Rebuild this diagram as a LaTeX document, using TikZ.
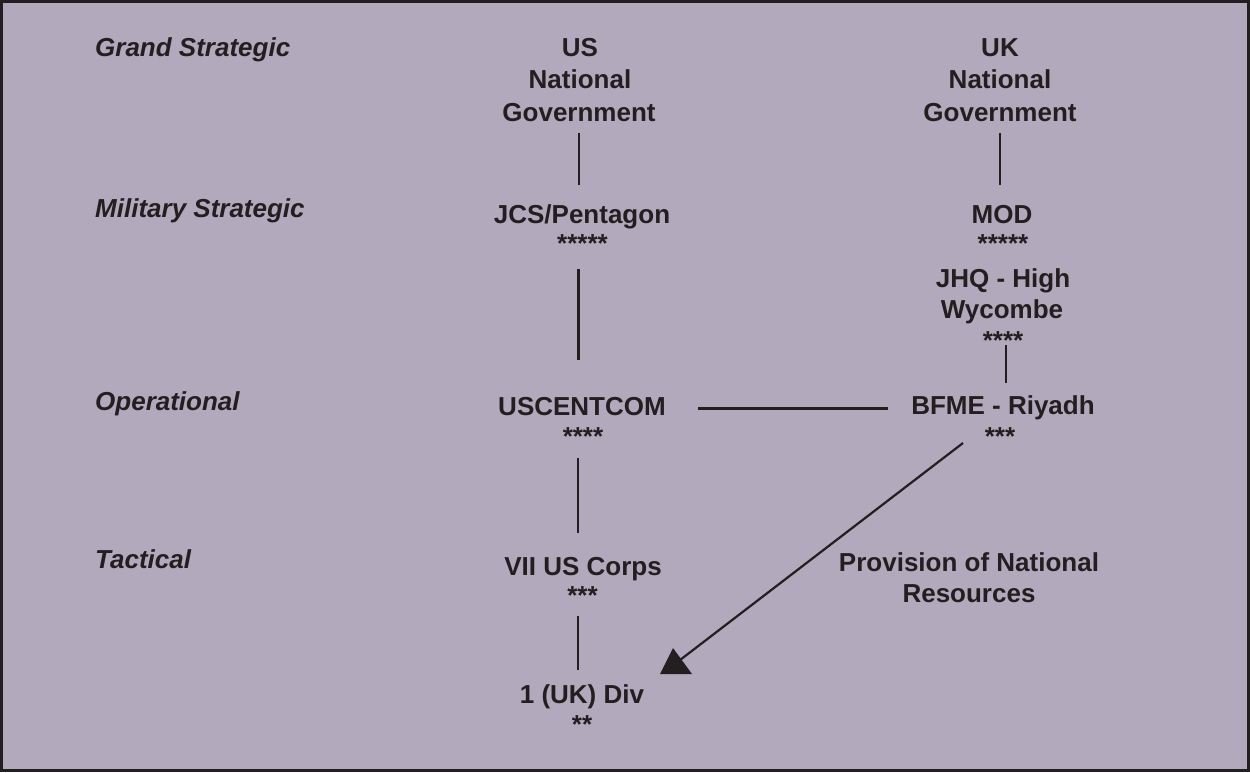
\documentclass[tikz,border=0pt]{standalone}
\usepackage{fontspec}
\setmainfont{Liberation Sans}
\definecolor{ink}{HTML}{231F20}
\definecolor{bg}{HTML}{B2A9BD}
\begin{document}
\begin{tikzpicture}[x=1pt,y=-1pt,
  lvl/.style={font=\fontsize{26}{31}\selectfont\bfseries\itshape, text=ink, anchor=base west, inner sep=0pt},
  txt/.style={font=\fontsize{26}{31}\selectfont\bfseries, text=ink, anchor=base, inner sep=0pt, text height=19pt, text depth=5.5pt},
  conn/.style={draw=ink, line width=2.5pt},
  diag/.style={draw=ink, line width=2.2pt}
]
\useasboundingbox (0,0) rectangle (1250,772);
\draw[line width=3pt, draw=ink, fill=bg] (1.5,1.5) rectangle (1248.5,770.5);

% level labels
\node[lvl] (lGrand) at (95,56) {Grand Strategic};
\node[lvl] (lMil) at (95,217) {Military Strategic};
\node[lvl] (lOp) at (95,410) {Operational};
\node[lvl] (lTac) at (95,568) {Tactical};

% US column
\node[txt] (usA) at (580,56) {US};
\node[txt] (usB) at (580,88) {National};
\node[txt] (usGov) at (579,121) {Government};
\node[txt] (jcs) at (582,223) {JCS/Pentagon};
\node[txt] (jcsS) at (582.5,252) {*****};
\node[txt] (uscent) at (582,415) {USCENTCOM};
\node[txt] (uscentS) at (583,445) {****};
\node[txt] (vii) at (583,575) {VII US Corps};
\node[txt] (viiS) at (582.5,604) {***};
\node[txt] (div) at (582,703) {1 (UK) Div};
\node[txt] (divS) at (582,733) {**};

% UK column
\node[txt] (ukA) at (1000,56) {UK};
\node[txt] (ukB) at (1000,88) {National};
\node[txt] (ukGov) at (1000,121) {Government};
\node[txt] (mod) at (1002,223) {MOD};
\node[txt] (modS) at (1003,252) {*****};
\node[txt] (jhqA) at (1003,287) {JHQ - High};
\node[txt] (jhqB) at (1002,318) {Wycombe};
\node[txt] (jhqS) at (1003,349) {****};
\node[txt] (bfme) at (1003,414) {BFME - Riyadh};
\node[txt] (bfmeS) at (1000,445) {***};
\node[txt] (provA) at (969,571) {Provision of National};
\node[txt] (provB) at (969,602) {Resources};

% connectors
\draw[conn, shorten <=6.5pt, shorten >=19pt] (usGov.south) -- (usGov.south |- jcs.north);
\draw[conn, shorten <=6.5pt, shorten >=19pt] (ukGov.south) -- (ukGov.south |- mod.north);
\draw[conn, shorten <=11.5pt, shorten >=36pt] ([xshift=-4pt]jcsS.south) -- ([xshift=-4pt]jcsS.south |- uscent.north);
\draw[conn, shorten <=12pt, shorten >=2.75pt] ([xshift=3pt]bfme.north) -- ([xshift=3pt]bfme.north |- jhqS.center);
\draw[conn, shorten <=7.5pt, shorten >=23pt] ([xshift=-5pt]uscentS.south) -- ([xshift=-5pt]uscentS.south |- vii.north);
\draw[conn, shorten <=6.5pt, shorten >=14pt] ([xshift=-4.5pt]viiS.south) -- ([xshift=-4.5pt]viiS.south |- div.north);
\draw[conn, shorten <=32pt, shorten >=23pt] (uscent.east) -- (uscent.east -| bfme.west);

% provision arrow
\coordinate (provStart) at (963,443);
\coordinate (provEnd) at (680,660);
\draw[diag] (provStart) -- (provEnd);
\fill[ink] (673,648) -- (660,674) -- (692,674) -- cycle;
\end{tikzpicture}
\end{document}
